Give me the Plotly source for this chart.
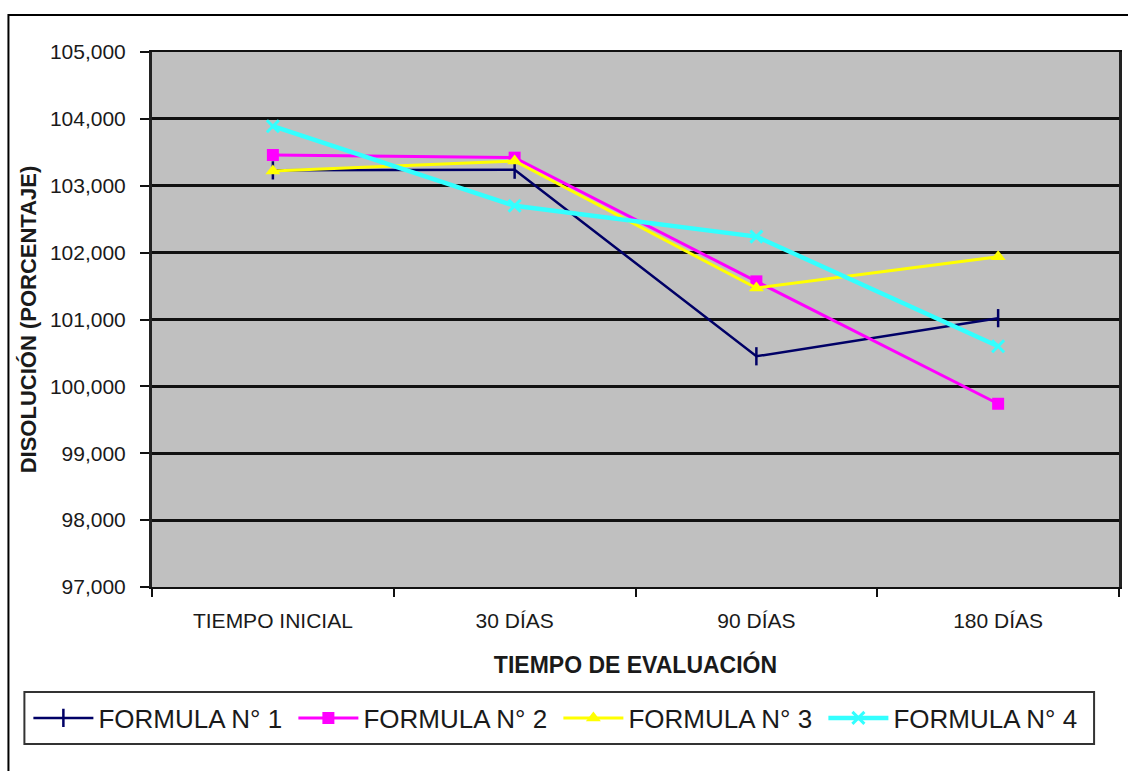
import plotly.graph_objects as go

# Evaluation times (x categories)
tiempos = ["TIEMPO INICIAL", "30 DÍAS", "90 DÍAS", "180 DÍAS"]

# Dissolution (%) per formula
formula_1 = [103.23, 103.24, 100.45, 101.02]
formula_2 = [103.46, 103.42, 101.57, 99.74]
formula_3 = [103.22, 103.37, 101.47, 101.94]
formula_4 = [103.89, 102.70, 102.24, 100.60]

series_names = ["FORMULA N° 1", "FORMULA N° 2", "FORMULA N° 3", "FORMULA N° 4"]

# Y axis ticks
y_ticks = [97, 98, 99, 100, 101, 102, 103, 104, 105]
y_tick_labels = ["97,000", "98,000", "99,000", "100,000", "101,000",
                 "102,000", "103,000", "104,000", "105,000"]

W, H = 1128, 771
L, R, T, B = 152, 6, 52, 184
PW, PH = W - L - R, H - T - B


def px_x(p):
    return (p - L) / PW


def px_y(p):
    return (H - B - p) / PH


FONT = "Liberation Sans, Arial, sans-serif"

styles = [
    dict(color="#000066", width=2.5, symbol="line-ns", size=13, mline=2.5),
    dict(color="#FF00FF", width=3, symbol="square", size=12, mline=0),
    dict(color="#FFFF00", width=3, symbol="triangle-up", size=13, mline=0),
    dict(color="#33FFFF", width=4.5, symbol="x-thin", size=12, mline=3),
]

fig = go.Figure()
for name, vals, st in zip(series_names, [formula_1, formula_2, formula_3, formula_4], styles):
    fig.add_trace(go.Scatter(
        x=tiempos, y=vals, name=name, mode="lines+markers",
        line=dict(color=st["color"], width=st["width"]),
        marker=dict(symbol=st["symbol"], size=st["size"], color=st["color"],
                    line=dict(color=st["color"], width=st["mline"])),
    ))

fig.update_layout(
    width=W, height=H,
    margin=dict(l=L, r=R, t=T, b=B),
    paper_bgcolor="white",
    plot_bgcolor="#C0C0C0",
    font=dict(family=FONT, color="#1a1a1a"),
    showlegend=True,
    legend=dict(
        orientation="h",
        x=px_x(28), xanchor="left",
        y=px_y(718), yanchor="middle",
        font=dict(family=FONT, size=26, color="#1a1a1a"),
        entrywidth=190,
        itemwidth=60,
        bgcolor="rgba(0,0,0,0)",
    ),
    xaxis=dict(
        type="category",
        range=[-0.5, 3.5],
        showgrid=False,
        showline=True, linecolor="#111", linewidth=2, mirror=True,
        ticks="outside", tickson="boundaries", ticklen=8, tickwidth=2, tickcolor="#111",
        tickfont=dict(family=FONT, size=21, color="#1a1a1a"),
        ticklabelstandoff=14,
        title=dict(text="<b>TIEMPO DE EVALUACIÓN</b>",
                   font=dict(family=FONT, size=23, color="#1a1a1a"), standoff=26),
    ),
    yaxis=dict(
        range=[97, 105],
        tickvals=y_ticks, ticktext=y_tick_labels,
        showgrid=True, gridcolor="#111", gridwidth=3,
        showline=True, linecolor="#222", linewidth=3, mirror=True,
        ticks="outside", ticklen=9, tickwidth=2, tickcolor="#111",
        tickfont=dict(family=FONT, size=21, color="#1a1a1a"),
        ticklabelstandoff=10,
        zeroline=False,
        title=dict(text="<b>DISOLUCIÓN (PORCENTAJE)</b>",
                   font=dict(family=FONT, size=22, color="#1a1a1a"), standoff=8),
    ),
    shapes=[
        # outer chart frame
        dict(type="rect", xref="paper", yref="paper",
             x0=px_x(8), x1=px_x(1140), y0=px_y(790), y1=px_y(15),
             line=dict(color="#000", width=2), fillcolor="rgba(0,0,0,0)", layer="below"),
        # legend box
        dict(type="rect", xref="paper", yref="paper",
             x0=px_x(24), x1=px_x(1097), y0=px_y(744), y1=px_y(692),
             line=dict(color="#333", width=2), fillcolor="rgba(0,0,0,0)"),
    ],
)

fig.write_html("out.html")
